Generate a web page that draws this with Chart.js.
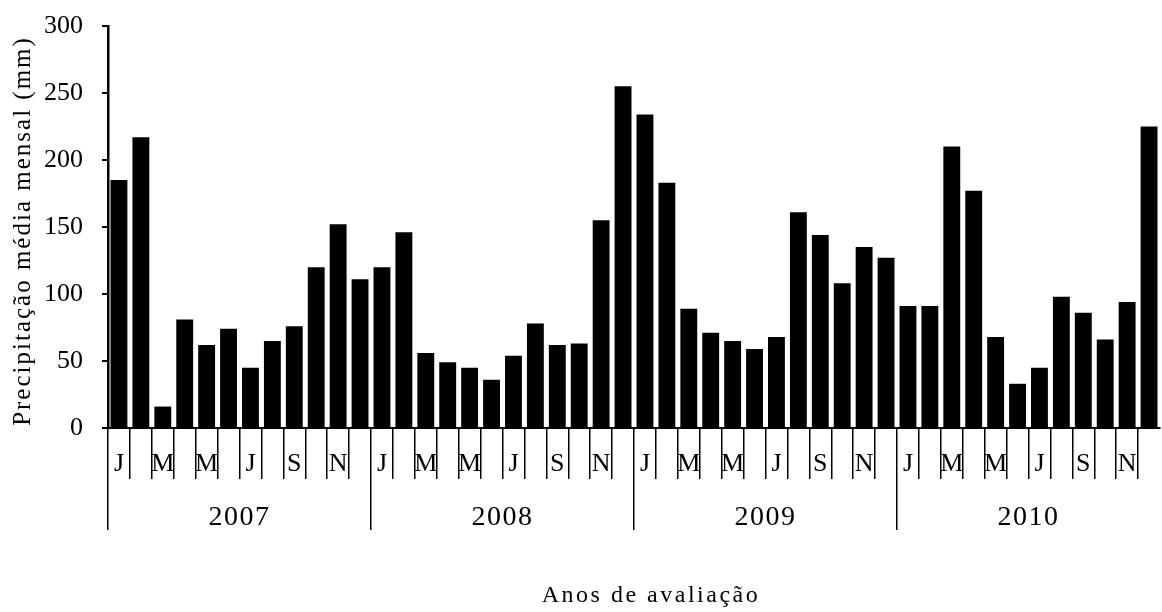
<!DOCTYPE html>
<html>
<head>
<meta charset="utf-8">
<script src="https://cdn.jsdelivr.net/npm/chart.js@4"></script>
<style>
  html, body { margin: 0; padding: 0; background: #fff; }
  #wrap { width: 1162px; height: 612px; position: relative; }
</style>
</head>
<body>
<div id="wrap"><canvas id="graph"></canvas></div>
<script>
const years = ['2007', '2008', '2009', '2010'];
const monthLetters = ['J', 'F', 'M', 'A', 'M', 'J', 'J', 'A', 'S', 'O', 'N', 'D'];
const rain2007 = [185, 217, 16, 81, 62, 74, 45, 65, 76, 120, 152, 111];
const rain2008 = [120, 146, 56, 49, 45, 36, 54, 78, 62, 63, 155, 255];
const rain2009 = [234, 183, 89, 71, 65, 59, 68, 161, 144, 108, 135, 127];
const rain2010 = [91, 91, 210, 177, 68, 33, 45, 98, 86, 66, 94, 225];
const yTicks = [0, 50, 100, 150, 200, 250, 300];

const graphRef = document.getElementById('graph');
const serif = 'Liberation Serif, Times New Roman, serif';

const labels = years.flatMap(() => monthLetters);
const data = [...rain2007, ...rain2008, ...rain2009, ...rain2010];

// wrap a scale draw step so its text gets pdf-like letter spacing
function spaced(scale, method, px, dx = 0, dy = 0) {
  if (scale['_sp_' + method]) return;
  const orig = scale[method].bind(scale);
  scale[method] = function (...args) {
    const ctx = this.ctx;
    ctx.save();
    ctx.letterSpacing = px + 'px';
    ctx.translate(dx, dy);
    orig(...args);
    ctx.restore();
  };
  scale['_sp_' + method] = true;
}

// hide the closing grid line on the right edge
function edgeColor(ctx) {
  return ctx.type === 'tick' ? '#000' : 'rgba(0,0,0,0)';
}

new Chart(graphRef, {
  type: 'bar',
  data: {
    labels: labels,
    datasets: [
      {
        label: 'Precipitação',
        data: data,
        backgroundColor: '#000',
        borderWidth: 0,
        barPercentage: 0.77,
        categoryPercentage: 1,
      },
    ],
  },
  options: {
    responsive: true,
    maintainAspectRatio: false,
    animation: false,
    layout: { padding: { top: 26, right: 2, bottom: 0, left: 0 } },
    plugins: {
      legend: { display: false },
      tooltip: { enabled: false },
    },
    scales: {
      x: {
        grid: {
          offset: true,
          drawOnChartArea: false,
          tickLength: 51,
          lineWidth: 1.5,
          color: edgeColor,
        },
        border: { display: true, color: '#000', width: 2 },
        ticks: {
          autoSkip: false,
          maxRotation: 0,
          padding: -30,
          color: '#000',
          font: { family: serif, size: 26 },
          callback: (v, i) => (i % 2 === 0 ? labels[i] : ''),
        },
        afterFit: (s) => {
          s.height = 51;
          s.paddingLeft = 0;
          s.paddingRight = 0;
        },
      },
      x2: {
        type: 'category',
        labels: years,
        position: 'bottom',
        offset: true,
        grid: {
          offset: true,
          drawOnChartArea: false,
          tickLength: 51,
          lineWidth: 1.5,
          color: edgeColor,
        },
        border: { display: false },
        ticks: {
          maxRotation: 0,
          padding: -29,
          color: '#000',
          font: { family: serif, size: 28 },
        },
        title: {
          display: true,
          text: 'Anos de avaliação',
          color: '#000',
          font: { family: serif, size: 24 },
          padding: { top: 0, bottom: 2 },
        },
        afterFit: (s) => {
          s.height = 612 - 479;
          s.paddingLeft = 0;
          s.paddingRight = 0;
          spaced(s, 'drawTitle', 2.5, 17);
          spaced(s, 'drawLabels', 1.5);
        },
      },
      y: {
        min: 0,
        max: 300,
        afterBuildTicks: (s) => {
          s.ticks = yTicks.map((v) => ({ value: v }));
        },
        grid: {
          drawOnChartArea: false,
          tickLength: 6,
          lineWidth: 2,
          color: '#000',
        },
        border: { color: '#000', width: 2.5 },
        ticks: {
          padding: 19,
          color: '#000',
          font: { family: serif, size: 26 },
        },
        title: {
          display: true,
          text: 'Precipitação média mensal (mm)',
          color: '#000',
          font: { family: serif, size: 25 },
          padding: { top: 8, bottom: 0 },
        },
        afterFit: (s) => {
          s.width = 108;
          s.paddingTop = 0;
          s.paddingBottom = 0;
          spaced(s, 'drawTitle', 2, 0, 4);
        },
      },
    },
  },
});
</script>
</body>
</html>
